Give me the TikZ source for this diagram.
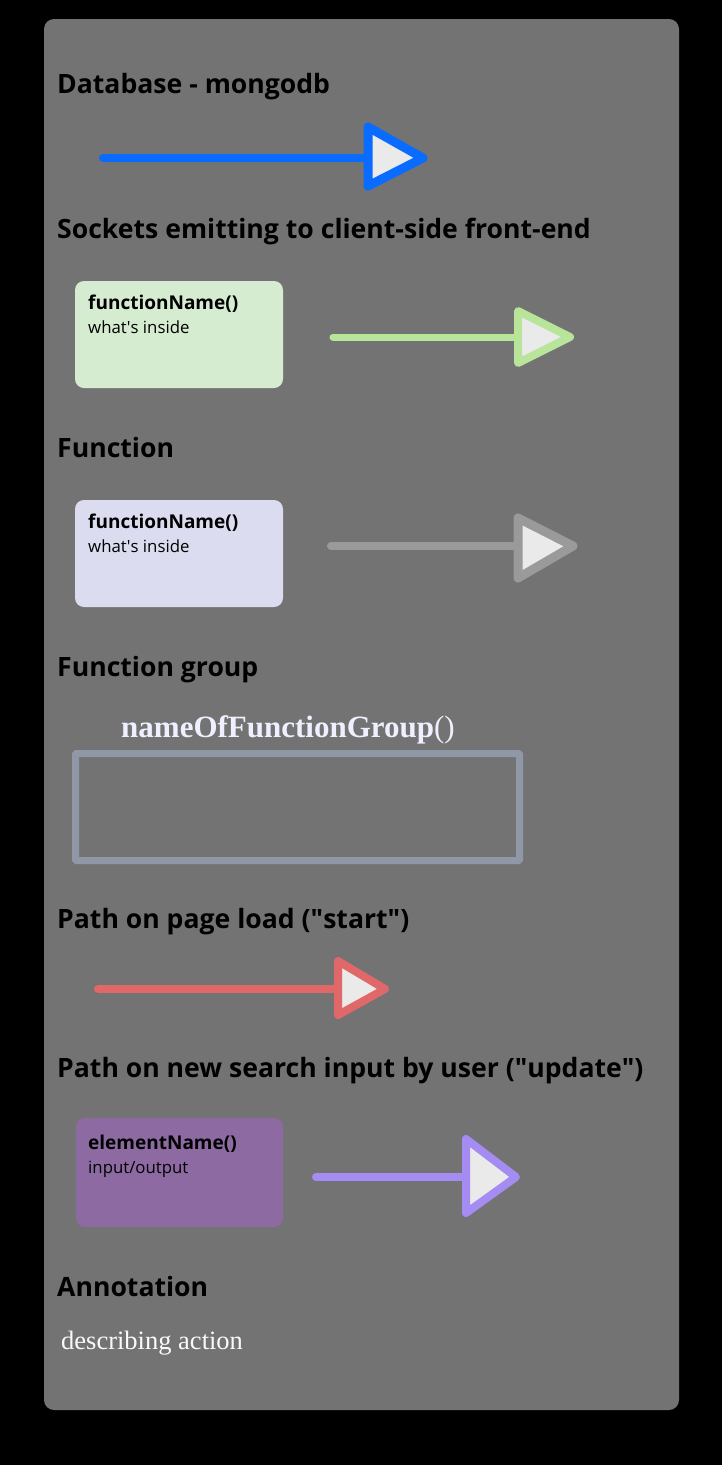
\documentclass[tikz,border=0pt]{standalone}
\usepackage{fontspec}
\setmainfont{Open Sans}
\newfontfamily\seriffont{Liberation Serif}
\definecolor{panel}{HTML}{737373}
\definecolor{dbblue}{HTML}{0A6CFF}
\definecolor{sockgreen}{HTML}{B9E59B}
\definecolor{fungray}{HTML}{9A9A9A}
\definecolor{startred}{HTML}{E06868}
\definecolor{updpurple}{HTML}{A48CF2}
\definecolor{headfill}{HTML}{EAEAEA}
\definecolor{greenbox}{HTML}{D5ECD1}
\definecolor{lavbox}{HTML}{DCDCF0}
\definecolor{purplebox}{HTML}{8E6AA2}
\definecolor{groupline}{HTML}{9098A8}
\definecolor{groupname}{HTML}{EEF0FF}
\tikzset{
  heading/.style={anchor=base west, inner sep=0pt, font=\fontsize{26.6}{30}\selectfont\bfseries, text=black},
  boxtitle/.style={anchor=base west, inner sep=0pt, font=\fontsize{19}{22}\selectfont\bfseries, text=black},
  boxtext/.style={anchor=base west, inner sep=0pt, font=\fontsize{16.8}{20}\selectfont, text=black},
  fbox/.style={rounded corners=9pt, draw=none},
  shaft/.style={line width=8pt, line cap=round},
  headtri/.style={line width=8pt, line join=round, fill=headfill},
}
\begin{document}
\begin{tikzpicture}[x=1pt,y=-1pt]
\useasboundingbox[fill=black] (0,0) rectangle (722,1465);
\fill[panel, rounded corners=10pt] (44,19) rectangle (679,1410);

% Database
\node[heading] (hdb) at (57,93) {Database - mongodb};
\coordinate (db1) at (103,158);
\coordinate (db2) at (368,158);
\draw[shaft, dbblue] (db1) -- (db2);
\draw[headtri, draw=dbblue, line width=9pt] (368,127) -- (423,158) -- (368,186) -- cycle;

% Sockets
\node[heading] (hsock) at (57,238) {Sockets emitting to client-side front-end};
\fill[fbox, greenbox] (75,281) rectangle (283,388);
\node[boxtitle] (gtitle) at (88,309) {functionName()};
\node[boxtext] (gtext) at (88,333) {what\textquotesingle s inside};
\coordinate (g1) at (333,337);
\coordinate (g2) at (518,337);
\draw[shaft, sockgreen, line width=7pt] (g1) -- (g2);
\draw[headtri, draw=sockgreen] (518,311) -- (570,337) -- (518,363) -- cycle;

% Function
\node[heading] (hfun) at (57,457) {Function};
\fill[fbox, lavbox] (75,500) rectangle (283,607);
\node[boxtitle] (ltitle) at (88,528) {functionName()};
\node[boxtext] (ltext) at (88,552) {what\textquotesingle s inside};
\coordinate (f1) at (331,546);
\coordinate (f2) at (518,546);
\draw[shaft, fungray] (f1) -- (f2);
\draw[headtri, draw=fungray, line width=9pt] (518,518) -- (573,546) -- (518,578) -- cycle;

% Function group
\node[heading] (hgrp) at (57,676) {Function group};
\node[anchor=base west, inner sep=0pt, text=groupname, font=\seriffont\fontsize{31}{34}\selectfont] (gname) at (121,737) {\bfseries nameOfFunctionGroup\mdseries()};
\draw[groupline, line width=7pt, rounded corners=1pt] (75.5,753.5) rectangle (519.5,860.5);

% Path start
\node[heading] (hstart) at (57,928) {Path on page load (\textquotedbl start\textquotedbl)};
\coordinate (s1) at (98,989);
\coordinate (s2) at (338,989);
\draw[shaft, startred] (s1) -- (s2);
\draw[headtri, draw=startred] (338,961) -- (385,989) -- (338,1015) -- cycle;

% Path update
\node[heading] (hupd) at (57,1077) {Path on new search input by user (\textquotedbl update\textquotedbl)};
\fill[fbox, purplebox] (76,1118) rectangle (283,1227);
\node[boxtitle] (ptitle) at (88,1149) {elementName()};
\node[boxtext] (ptext) at (88,1173) {input/output};
\coordinate (p1) at (316,1177);
\coordinate (p2) at (466,1177);
\draw[shaft, updpurple] (p1) -- (p2);
\draw[headtri, draw=updpurple] (466,1139) -- (516,1177) -- (466,1213) -- cycle;

% Annotation
\node[heading] (hann) at (57,1296) {Annotation};
\node[anchor=base west, inner sep=0pt, text=white!95!gray, font=\seriffont\fontsize{26.5}{30}\selectfont] (ann) at (61,1349) {describing action};
\end{tikzpicture}
\end{document}
